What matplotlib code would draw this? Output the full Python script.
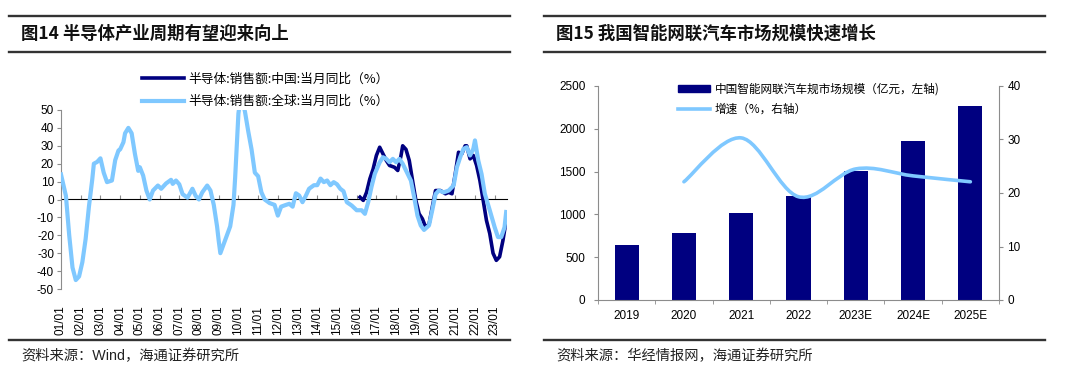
import matplotlib
matplotlib.use("Agg")
import matplotlib.pyplot as plt
from matplotlib.lines import Line2D
from matplotlib.patches import Patch, PathPatch
from matplotlib.path import Path

plt.rcParams['font.family'] = ['Liberation Sans', 'Noto Sans CJK SC', 'DejaVu Sans']
plt.rcParams['axes.unicode_minus'] = False

# ---------------- data: left chart (monthly index from 2001-01) ----------------
global_month = [0, 3, 5, 7, 9, 11, 13, 15, 17, 19, 20, 22, 24, 26, 28, 31, 33, 35, 36, 38, 39, 41, 43, 45,
                47, 48, 50, 52, 54, 56, 59, 61, 64, 67, 68, 70, 72, 74, 77, 80, 82, 84, 86, 89, 91, 93,
                95, 96, 97, 99, 101, 103, 105, 106, 107, 108, 109, 110, 111, 112, 114, 116, 118, 120,
                122, 124, 127, 130, 132, 134, 137, 139, 141, 143, 145, 147, 149, 151, 154, 156, 158,
                160, 162, 164, 166, 168, 170, 172, 174, 177, 180, 183, 185, 187, 189, 191, 194, 196,
                198, 200, 202, 204, 206, 208, 211, 213, 215, 217, 219, 221, 224, 226, 228, 230, 233,
                236, 239, 241, 243, 245, 247, 249, 251, 252, 254, 256, 258, 261, 264, 266, 268, 270, 271]
global_yoy = [14, 2, -20, -38, -45, -43, -35, -22, -4, 11, 20, 21, 23, 15, 9.7, 10.6, 22, 27.4, 28, 32, 37,
              40, 37, 25.5, 16, 18, 13.4, 5, 0, 5, 7.8, 6, 9, 11, 8.7, 10.6, 8.5, 3, 1, 6, 2, 0, 4, 7.8,
              5, -3, -15, -23, -30, -25, -20, -15, -3, 12, 30, 48, 55, 57, 53, 49, 38, 28, 15, 13, 4, 0,
              -2, -3, -9, -4, -3, -2.4, -4, 3.5, 2.2, -1.5, 2, 6, 8, 8, 11.7, 9.7, 10.6, 8, 9.7, 8.5, 6,
              4.6, -1.5, -3.4, -6, -6, -8, -1.5, 7, 14.3, 20.8, 23.6, 22.7, 20.8, 22.7, 20.8, 22.7, 20,
              14.3, 10.6, 1.3, -9, -14.5, -17, -14.5, -6, 3, 5, 4, 5, 7.8, 18, 23.6, 28.3, 29.2, 24.6,
              28.3, 33, 21.8, 14.3, 3.2, -6, -15.5, -21, -21, -15.5, -7]
china_month = [182, 184, 186, 188, 190, 192, 194, 196, 198, 200, 203, 205, 207, 208, 210, 212, 214, 216,
               218, 220, 222, 224, 226, 228, 231, 234, 236, 238, 240, 242, 244, 246, 247, 249, 251, 253,
               255, 257, 259, 261, 263, 265, 267, 269, 271]
china_yoy = [1.3, -0.5, 4, 11.5, 17, 24.6, 29.2, 25.5, 21.8, 19, 18, 16.2, 24.6, 30, 28, 21.8, 10.6, -0.5,
             -8, -10.8, -15.5, -14, -4.3, 5, 5, 3.2, 4, 3.2, 14.3, 26.4, 25.5, 30, 30, 22.7, 24.6, 19,
             10.6, -0.5, -11.7, -19, -30, -34, -32, -23, -11.7]
year_labels = ['%02d/01' % y for y in range(1, 24)]
year_tick_month = [12 * i for i in range(len(year_labels))]
left_yticks = list(range(-50, 51, 10))

# ---------------- data: right chart ----------------
years = ['2019', '2020', '2021', '2022', '2023E', '2024E', '2025E']
market_size = [643, 779, 1013, 1215, 1507, 1861, 2270]
growth_years_idx = [1, 2, 3, 4, 5, 6]
growth_rate = [22.1, 30.3, 19.3, 24.5, 23.2, 22.1]

NAVY = '#000080'
LIGHT = '#7FC8FF'
AXC = '#8C8C8C'

fig = plt.figure(figsize=(10.8, 3.77), dpi=100)
W, H = 1080, 377

def fx(px):
    return px / W

def fy(py):
    return 1 - py / H

def hline(x0, x1, y, lw=1.7):
    fig.add_artist(Line2D([fx(x0), fx(x1)], [fy(y), fy(y)], color='#333333', lw=lw,
                          transform=fig.transFigure))

# frame lines & titles
for (a, b) in [(9, 510), (544, 1045)]:
    hline(a, b, 16)
    hline(a, b, 52)
    hline(a, b, 340)

cjk = ['Noto Sans CJK SC', 'DejaVu Sans']
fig.text(fx(21), fy(34), '图14 半导体产业周期有望迎来向上', fontsize=12.5, fontweight='bold',
         family=cjk, va='center', ha='left', color='#111111')
fig.text(fx(556), fy(34), '图15 我国智能网联汽车市场规模快速增长', fontsize=12.5, fontweight='bold',
         family=cjk, va='center', ha='left', color='#111111')
fig.text(fx(21), fy(356), '资料来源：Wind，海通证券研究所', fontsize=10.3, va='center', ha='left',
         color='#222222')
fig.text(fx(556), fy(356), '资料来源：华经情报网，海通证券研究所', fontsize=10.3, va='center', ha='left',
         color='#222222')

# ---------------- left chart ----------------
ax = fig.add_axes([fx(61), fy(289), fx(507) - fx(61), fy(110) - fy(289)])
l1, = ax.plot(china_month, china_yoy, color=NAVY, lw=2.6, zorder=3, solid_joinstyle='round')
l2, = ax.plot(global_month, global_yoy, color=LIGHT, lw=3.0, zorder=4, solid_joinstyle='round')
ax.set_xlim(0, 271.5)
ax.set_ylim(-50, 50)
ax.set_yticks(left_yticks)
ax.tick_params(axis='y', direction='out', length=3, color=AXC, labelsize=8.5, pad=2)
for s in ['top', 'right', 'bottom']:
    ax.spines[s].set_visible(False)
ax.spines['left'].set_color(AXC)
ax.set_xticks(year_tick_month)
ax.set_xticklabels(year_labels, rotation=90, fontsize=8.5)
ax.tick_params(axis='x', length=0, pad=12)
sec = ax.secondary_xaxis(0.5)
sec.set_xticks(year_tick_month[1:])
sec.set_xticklabels([])
sec.tick_params(axis='x', direction='out', length=3, color=AXC)
sec.spines['bottom'].set_color(AXC)
sec.spines['bottom'].set_zorder(1)
fig.legend([l1, l2], ['半导体:销售额:中国:当月同比（%）', '半导体:销售额:全球:当月同比（%）'],
           loc='upper left', bbox_to_anchor=(fx(130), fy(61)), frameon=False,
           handlelength=3.3, labelspacing=0.75, handletextpad=0.4,
           prop={'family': cjk, 'size': 9.2})

# ---------------- right chart ----------------
bx = fig.add_axes([fx(598), fy(300), fx(999) - fx(598), fy(86) - fy(300)])
xs = list(range(len(years)))
bars = bx.bar(xs, market_size, width=0.42, color=NAVY, zorder=2)
bx.set_xlim(-0.5, len(years) - 0.5)
bx.set_ylim(0, 2500)
bx.set_yticks(range(0, 2501, 500))
bx.set_xticks(xs)
bx.set_xticklabels(years, fontsize=8.5)
bx.set_xticks([i - 0.5 for i in range(len(years) + 1)], minor=True)
bx.tick_params(axis='x', which='major', length=0, pad=7)
bx.tick_params(axis='x', which='minor', length=3, direction='out', color=AXC)
bx.tick_params(axis='y', direction='out', length=3, color=AXC, labelsize=8.5, pad=6)
bx.spines['top'].set_visible(False)
bx.spines['right'].set_visible(False)
for s in ['left', 'bottom']:
    bx.spines[s].set_color(AXC)

b2 = bx.twinx()
b2.set_ylim(0, 40)
b2.set_yticks(range(0, 41, 10))
b2.tick_params(axis='y', direction='out', length=3, color=AXC, labelsize=8.5, pad=3)
for s in ['top', 'left', 'bottom']:
    b2.spines[s].set_visible(False)
b2.spines['right'].set_color(AXC)

# smoothed line (Catmull-Rom style Bezier through the data points)
pts = list(zip(growth_years_idx, growth_rate))
n = len(pts)
verts = [pts[0]]
codes = [Path.MOVETO]
for i in range(n - 1):
    p0 = pts[i - 1] if i > 0 else pts[i]
    p1 = pts[i]
    p2 = pts[i + 1]
    p3 = pts[i + 2] if i + 2 < n else pts[i + 1]
    c1 = (p1[0] + (p2[0] - p0[0]) / 6, p1[1] + (p2[1] - p0[1]) / 6)
    c2 = (p2[0] - (p3[0] - p1[0]) / 6, p2[1] - (p3[1] - p1[1]) / 6)
    verts += [c1, c2, p2]
    codes += [Path.CURVE4] * 3
b2.add_patch(PathPatch(Path(verts, codes), facecolor='none', edgecolor=LIGHT, lw=2.6,
                       capstyle='round', zorder=3))

handles = [Patch(facecolor=NAVY, edgecolor=NAVY), Line2D([], [], color=LIGHT, lw=2.6)]
fig.legend(handles, ['中国智能网联汽车规市场规模（亿元，左轴)', '增速（%，右轴）'],
           loc='upper left', bbox_to_anchor=(fx(667), fy(72)), frameon=False,
           handlelength=2.8, handleheight=0.6, labelspacing=0.65, handletextpad=0.4,
           prop={'family': cjk, 'size': 8.4})

fig.savefig('out.png', dpi=100)
